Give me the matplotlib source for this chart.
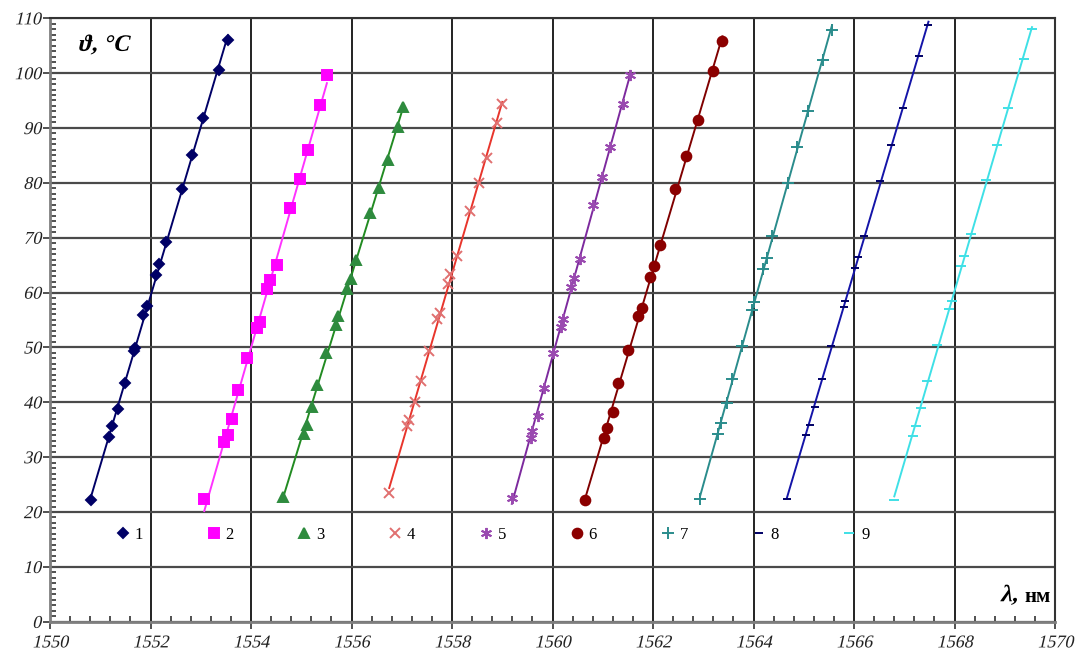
import numpy as np
import matplotlib.pyplot as plt
from matplotlib.ticker import MultipleLocator
from matplotlib.patheffects import AbstractPathEffect
from matplotlib.transforms import Affine2D

# temperature vs Bragg wavelength for nine gratings
lam_1 = [1550.82, 1551.18, 1551.24, 1551.36, 1551.49, 1551.67, 1551.69, 1551.86, 1551.93,
         1552.10, 1552.17, 1552.31, 1552.62, 1552.83, 1553.05, 1553.36, 1553.54]
t_1 = [22.1, 33.6, 35.6, 38.8, 43.6, 49.3, 49.9, 55.9, 57.5, 63.2, 65.2, 69.2, 78.9, 85.0, 91.8, 100.5, 106.0]

lam_2 = [1553.07, 1553.47, 1553.54, 1553.62, 1553.75, 1553.93, 1554.11, 1554.18, 1554.32,
         1554.38, 1554.52, 1554.78, 1554.98, 1555.14, 1555.38, 1555.51]
t_2 = [22.4, 32.7, 34.0, 36.9, 42.2, 48.0, 53.5, 54.6, 60.7, 62.2, 65.0, 75.4, 80.7, 85.9, 94.2, 99.6]

lam_3 = [1554.64, 1555.06, 1555.11, 1555.21, 1555.31, 1555.49, 1555.69, 1555.73, 1555.91,
         1555.98, 1556.08, 1556.37, 1556.55, 1556.72, 1556.92, 1557.03]
t_3 = [22.8, 34.3, 35.8, 39.1, 43.2, 48.9, 54.1, 55.7, 60.7, 62.5, 66.0, 74.5, 79.1, 84.1, 90.2, 93.9]

lam_4 = [1556.75, 1557.11, 1557.15, 1557.26, 1557.38, 1557.54, 1557.71, 1557.76, 1557.92,
         1557.96, 1558.09, 1558.36, 1558.54, 1558.69, 1558.89, 1559.00]
t_4 = [23.4, 35.6, 36.8, 40.0, 43.8, 49.3, 55.1, 56.3, 61.6, 63.3, 66.6, 74.8, 80.0, 84.6, 90.9, 94.3]

lam_5 = [1559.19, 1559.57, 1559.60, 1559.72, 1559.82, 1560.00, 1560.16, 1560.20, 1560.36,
         1560.42, 1560.55, 1560.81, 1560.98, 1561.15, 1561.40, 1561.54]
t_5 = [22.5, 33.5, 34.7, 37.5, 42.6, 49.0, 53.8, 55.2, 61.0, 62.6, 66.1, 75.9, 81.1, 86.6, 94.3, 99.6]

lam_6 = [1560.65, 1561.03, 1561.09, 1561.20, 1561.31, 1561.50, 1561.70, 1561.77, 1561.94,
         1562.01, 1562.14, 1562.44, 1562.66, 1562.90, 1563.20, 1563.38]
t_6 = [22.1, 33.5, 35.3, 38.3, 43.5, 49.6, 55.7, 57.1, 62.8, 64.9, 68.7, 78.8, 84.9, 91.4, 100.3, 105.9]

lam_7 = [1562.94, 1563.30, 1563.35, 1563.47, 1563.57, 1563.77, 1563.96, 1564.01, 1564.19,
         1564.26, 1564.37, 1564.68, 1564.86, 1565.08, 1565.39, 1565.56]
t_7 = [22.3, 34.3, 36.2, 39.9, 44.2, 50.3, 56.9, 58.3, 64.3, 66.3, 70.3, 80.0, 86.6, 93.1, 102.4, 107.8]

lam_8 = [1564.66, 1565.04, 1565.12, 1565.22, 1565.37, 1565.54, 1565.79, 1565.82, 1566.02,
         1566.07, 1566.20, 1566.52, 1566.73, 1566.98, 1567.30, 1567.48]
t_8 = [22.3, 34.1, 35.9, 39.1, 44.3, 50.3, 57.3, 58.5, 64.5, 66.4, 70.3, 80.4, 86.9, 93.7, 103.2, 108.7]

lam_9 = [1566.80, 1567.17, 1567.23, 1567.34, 1567.45, 1567.65, 1567.89, 1567.94, 1568.12,
         1568.19, 1568.33, 1568.62, 1568.85, 1569.07, 1569.39, 1569.54]
t_9 = [22.2, 33.9, 35.7, 38.9, 43.9, 50.4, 57.0, 58.4, 64.8, 66.7, 70.6, 80.6, 86.9, 93.6, 102.6, 108.0]

labels = ['1', '2', '3', '4', '5', '6', '7', '8', '9']

x_ticks = [1550, 1552, 1554, 1556, 1558, 1560, 1562, 1564, 1566, 1568, 1570]
y_ticks = [0, 10, 20, 30, 40, 50, 60, 70, 80, 90, 100, 110]

series = [(lam_1, t_1), (lam_2, t_2), (lam_3, t_3), (lam_4, t_4), (lam_5, t_5),
          (lam_6, t_6), (lam_7, t_7), (lam_8, t_8), (lam_9, t_9)]

line_colors = ['#000066', '#ff33ff', '#228b22', '#e8352c', '#7d2a9e',
               '#800000', '#2a8c8c', '#1414a8', '#3fe0e6']
mark_colors = ['#000066', '#ff00ff', '#2e8b3e', '#e07070', '#9a4ab0',
               '#8b0000', '#2a8c8c', '#000066', '#3fe0e6']
markers = ['D', 's', '^', 'x', (6, 2, 0), 'o', '+', '_', '_']
msizes = [5, 6.5, 7, 7, 8, 7, 8, 6, 7]


class Slant(AbstractPathEffect):
    """Shear glyph outlines to fake an italic face."""

    def __init__(self, angle=13):
        super().__init__()
        self._skew = Affine2D().skew_deg(angle, 0)

    def draw_path(self, renderer, gc, tpath, affine, rgbFace=None):
        renderer.draw_path(gc, tpath, self._skew + affine, rgbFace)


plt.rcParams['font.family'] = ['Liberation Serif', 'DejaVu Serif']

fig = plt.figure(figsize=(10.75, 6.5), dpi=100)
ax = fig.add_axes([0.0465, 0.0435, 0.935, 0.9285])

for (lam, t), lc, mc, m, ms, lab in zip(series, line_colors, mark_colors, markers, msizes, labels):
    lam = np.array(lam)
    t = np.array(t)
    # linear trend through the measured points
    k, b = np.polyfit(lam, t, 1)
    xs = np.array([lam.min(), lam.max()])
    ax.plot(xs, k * xs + b, color=lc, lw=1.4, zorder=3)
    ax.plot(lam, t, ls='none', marker=m, ms=ms, color=mc, mec=mc, mew=1.4,
            label=lab, zorder=4)

ax.set_xlim(1550, 1570)
ax.set_ylim(0, 110)
ax.set_xticks(x_ticks)
ax.set_yticks(y_ticks)
ax.xaxis.set_minor_locator(MultipleLocator(0.4))
ax.yaxis.set_minor_locator(MultipleLocator(1))
ax.set_xticklabels([])
ax.set_yticklabels([])

ax.grid(which='major', axis='x', color='#111111', lw=1.3)
ax.grid(which='major', axis='y', color='#4a4a4a', lw=1.6)
ax.set_axisbelow(True)

for s in ['left', 'bottom']:
    ax.spines[s].set_color('#7f7f7f')
    ax.spines[s].set_linewidth(2)
for s in ['top', 'right']:
    ax.spines[s].set_color('#333333')
    ax.spines[s].set_linewidth(1.5)

ax.tick_params(which='both', color='#333333', width=1.2, top=False, right=False)
ax.tick_params(which='major', direction='out', length=5)
ax.tick_params(which='minor', direction='in', length=4)

# italic-looking tick labels
for v in x_ticks:
    ax.annotate(str(v), xy=(v, 0), xycoords=('data', 'axes fraction'),
                xytext=(0, -18.5), textcoords='offset points', ha='center',
                va='baseline', fontsize=13, color='#222222', path_effects=[Slant()])
for v in y_ticks:
    ax.annotate(str(v), xy=(0, v), xycoords=('axes fraction', 'data'),
                xytext=(-6.5, -1.2), textcoords='offset points', ha='right',
                va='center', fontsize=13, color='#222222', path_effects=[Slant()])

ax.text(0.027, 0.955, 'ϑ, °C', transform=ax.transAxes, ha='left', va='center',
        fontsize=17, fontweight='bold', path_effects=[Slant()])
ax.text(0.9625, 0.043, 'λ,', transform=ax.transAxes, ha='right', va='center',
        fontsize=17, fontweight='bold', path_effects=[Slant()])
ax.text(0.9955, 0.041, 'нм', transform=ax.transAxes, ha='right', va='center',
        fontsize=15, fontweight='bold')

leg = ax.legend(ncol=9, loc='center', bbox_to_anchor=(0.4405, 0.144), frameon=False,
                handlelength=0.8, handletextpad=0.3, columnspacing=3.85,
                prop={'size': 12})

fig.savefig('out.png', dpi=100)
